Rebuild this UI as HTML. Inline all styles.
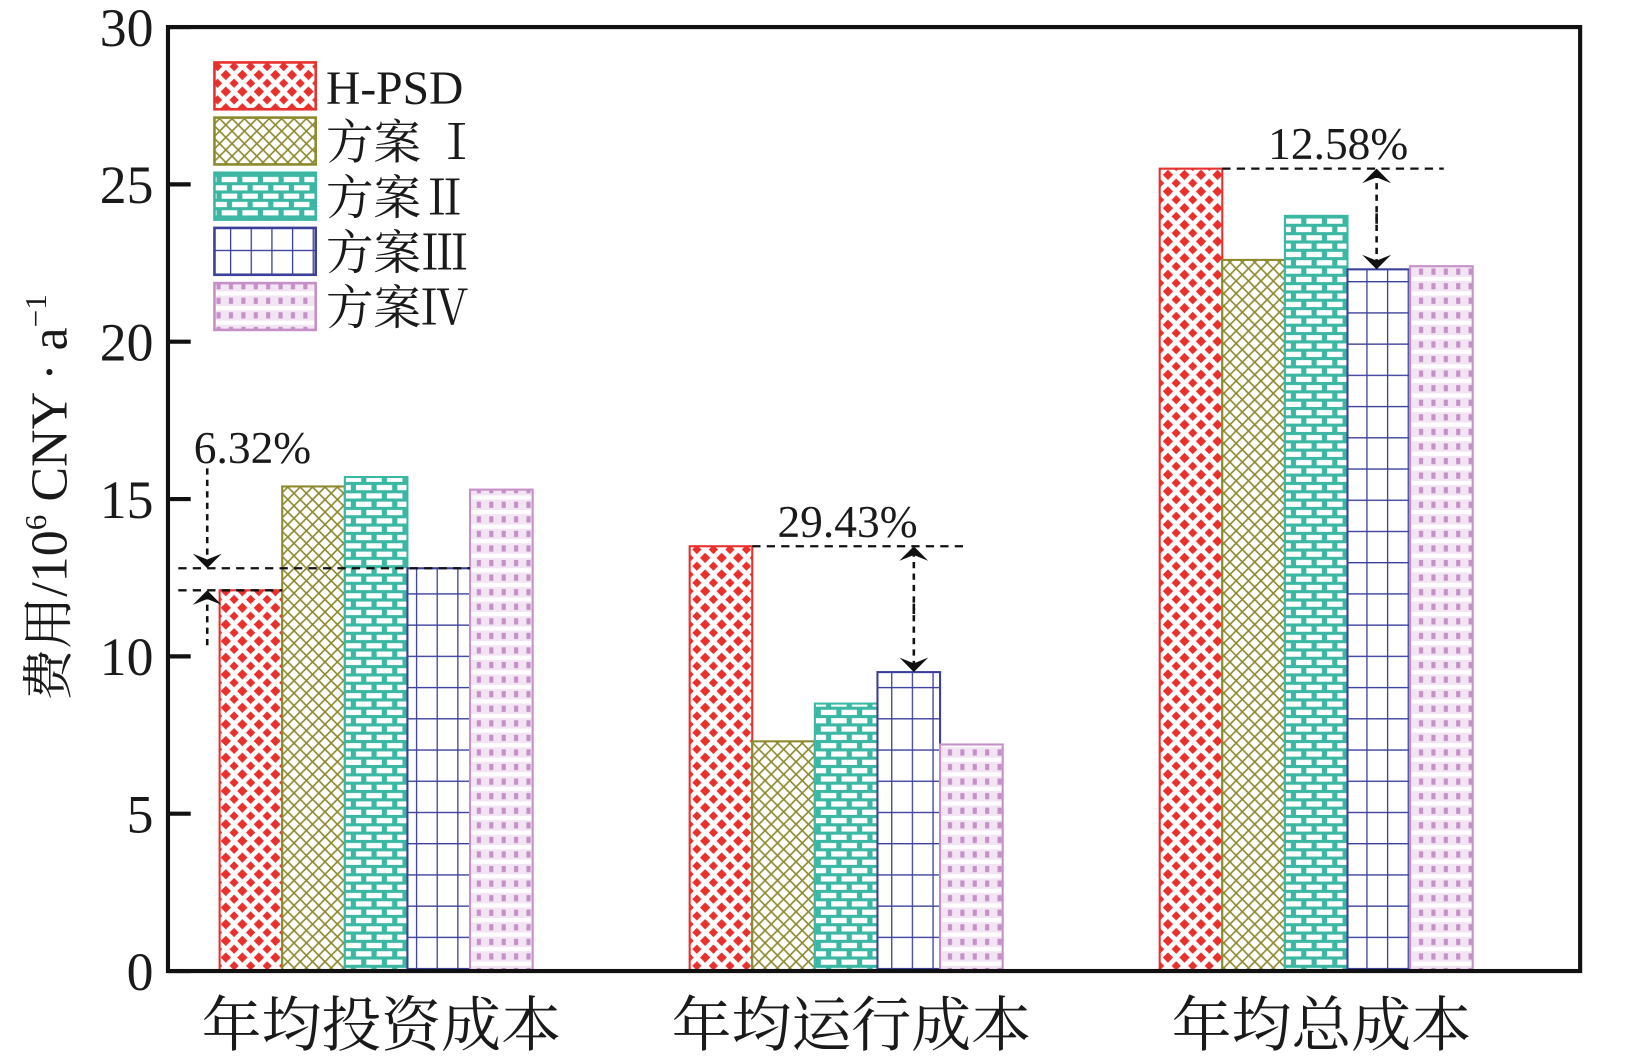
<!DOCTYPE html>
<html><head><meta charset="utf-8"><style>
html,body{margin:0;padding:0;background:#fff;width:1626px;height:1057px;overflow:hidden}
svg{display:block}
text{font-family:"Liberation Serif","Times New Roman","Noto Serif CJK SC",serif;fill:#1a1a1a}
</style></head><body>
<svg id="chart" width="1626" height="1057" viewBox="-2.6 0 1574 1015.6" preserveAspectRatio="none" xmlns="http://www.w3.org/2000/svg">
<defs>
<pattern id="p0" width="16" height="16" patternUnits="userSpaceOnUse">
<rect width="16" height="16" fill="#fff"/>
<path d="M0 0 L4.5 0 L0 4.5Z M16 0 L11.5 0 L16 4.5Z M0 16 L4.5 16 L0 11.5Z M16 16 L11.5 16 L16 11.5Z M8 3 L13 8 L8 13 L3 8Z" fill="#e8302c"/>
</pattern>
<pattern id="p1" width="12" height="12" patternUnits="userSpaceOnUse">
<rect width="12" height="12" fill="#fff"/>
<path d="M0 0L12 12M12 0L0 12" stroke="#8d8a2e" stroke-width="1.6"/>
</pattern>
<pattern id="p2" width="20" height="16" patternUnits="userSpaceOnUse">
<rect width="20" height="16" fill="#3bb7a3"/>
<rect x="2" y="2" width="15" height="5" fill="#fff"/>
<rect x="-8" y="10" width="15" height="5" fill="#fff"/>
<rect x="12" y="10" width="15" height="5" fill="#fff"/>
</pattern>
<pattern id="p3" width="20" height="30" patternUnits="userSpaceOnUse">
<rect width="20" height="30" fill="#fff"/>
<path d="M0 0H20M0 0V30" stroke="#3a3f9a" stroke-width="2.5"/>
</pattern>
<pattern id="p4" width="12" height="14" patternUnits="userSpaceOnUse">
<rect width="12" height="14" fill="#f3e4f3"/>
<rect x="0" y="0" width="12" height="4" fill="#fff"/>
<rect x="3" y="6" width="4" height="6" fill="#c58fc8"/>
</pattern>
<marker id="ah" viewBox="0 0 10 20" refX="10" refY="10" markerWidth="14" markerHeight="28" orient="auto" markerUnits="userSpaceOnUse">
<path d="M0 0 L10 10 L0 20 L4 10Z" fill="#111"/>
</marker>
</defs>
<g id="bars"></g>
<g id="axes"></g>
<g id="legend"></g>
<g id="annot"></g>
</svg>
<script>
const categories = ["年均投资成本", "年均运行成本", "年均总成本"];
const seriesNames = ["H-PSD", "方案 Ⅰ", "方案Ⅱ", "方案Ⅲ", "方案Ⅳ"];
const hpsd = [12.1, 13.5, 25.5];
const scheme1 = [15.4, 7.3, 22.6];
const scheme2 = [15.7, 8.5, 24.0];
const scheme3 = [12.8, 9.5, 22.3];
const scheme4 = [15.3, 7.2, 22.4];
const yTicks = [0, 5, 10, 15, 20, 25, 30];
const annotations = ["6.32%", "29.43%", "12.58%"];

const NS = "http://www.w3.org/2000/svg";
const FF = '"Liberation Serif","Times New Roman","Noto Serif CJK SC",serif';
const L = 160, R = 1527, T = 26, B = 933;
const yMax = 30;
function y(v){ return B - v / yMax * (B - T); }
const groupStart = [210, 665, 1120];
const barW = 60.6;
function x(ci, si){ return groupStart[ci] + si * barW; }
function mk(tag, attrs, parent){
  const e = document.createElementNS(NS, tag);
  for (const k in attrs) e.setAttribute(k, attrs[k]);
  if (tag === "text") e.setAttribute("font-family", FF);
  parent.appendChild(e); return e;
}
const series = [hpsd, scheme1, scheme2, scheme3, scheme4];
const strokes = ["#e8302c", "#8d8a2e", "#3bb7a3", "#3a3f9a", "#c58fc8"];
const gb = document.getElementById("bars");
series.forEach((vals, si) => {
  vals.forEach((v, ci) => {
    const r = mk("rect", {x: x(ci, si), y: y(v), width: barW, height: B - y(v), fill: "url(#p" + si + ")", stroke: strokes[si], "stroke-width": 2}, gb);
    
    
  });
});
const ga = document.getElementById("axes");
const frame = mk("rect", {x: L, y: T, width: R - L, height: B - T, fill: "none", stroke: "#111", "stroke-width": 4}, ga);


yTicks.forEach(t => {
  const tk = mk("line", {x1: L, x2: L + 22, y1: y(t), y2: y(t), stroke: "#111", "stroke-width": 4}, ga);
  
  
  const tl = mk("text", {x: L - 14, y: y(t) + 18, "text-anchor": "end", "font-size": 52}, ga);
  tl.textContent = t;
  
  
});
categories.forEach((c, ci) => {
  const cx = groupStart[ci] + barW * 2.5;
  const tl = mk("text", {x: cx + 5, y: 1005, "text-anchor": "middle", "font-size": 58}, ga);
  tl.textContent = c;
  
  
});
const yt = mk("text", {transform: "translate(62,478) rotate(-90)", "text-anchor": "middle", "font-size": 50}, ga);
yt.innerHTML = '费用/10<tspan font-size="30" dy="-20">6</tspan><tspan dy="20"> CNY · a</tspan><tspan font-size="30" dy="-20">−1</tspan>';



const gl = document.getElementById("legend");
seriesNames.forEach((n, si) => {
  const ly = 60 + si * 53;
  const box = mk("rect", {x: 205, y: ly, width: 98, height: 45, fill: "url(#p" + si + ")", stroke: strokes[si], "stroke-width": 2.5}, gl);
  
  
  const lt = mk("text", {x: 313, y: ly + 40, "font-size": 46}, gl);
  lt.textContent = n;
  
  
});

const gn = document.getElementById("annot");
function dash(x1, y1, x2, y2){
  const l = mk("line", {x1, y1, x2, y2, stroke: "#111", "stroke-width": 2.2, "stroke-dasharray": "8 6"}, gn);
  
  
}
function arrow(x1, y1, x2, y2){
  const l = mk("line", {x1, y1, x2, y2, stroke: "#111", "stroke-width": 2.5, "stroke-dasharray": "6 5", "marker-end": "url(#ah)"}, gn);
  
  
}
function label(tx, ty, s){
  const t = mk("text", {x: tx, y: ty, "font-size": 44}, gn);
  t.textContent = s;
  
  
}
dash(170, y(scheme3[0]), x(0,4), y(scheme3[0]));
dash(170, y(hpsd[0]), x(0,1), y(hpsd[0]));
arrow(198, 450, 198, y(scheme3[0]));
arrow(198, 620, 198, y(hpsd[0]));
label(185, 445, annotations[0]);
dash(x(1,1), y(hpsd[1]), 935, y(hpsd[1]));
arrow(882, 590, 882, y(hpsd[1]));
arrow(882, 580, 882, y(scheme3[1]));
label(750, 516, annotations[1]);
dash(x(2,1), y(hpsd[2]), 1395, y(hpsd[2]));
arrow(1330, 215, 1330, y(hpsd[2]));
arrow(1330, 205, 1330, y(scheme3[2]));
label(1225, 153, annotations[2]);
</script>
</body></html>
